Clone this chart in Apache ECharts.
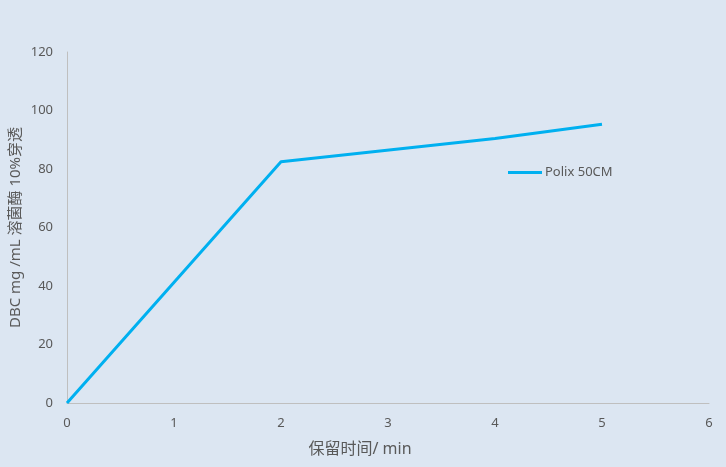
<!DOCTYPE html>
<html><head><meta charset="utf-8">
<script src="https://cdn.jsdelivr.net/npm/echarts@6/dist/echarts.min.js"></script>
<style>html,body{margin:0;padding:0;background:#dce6f2;}#c{width:726px;height:467px;}</style>
</head><body><div id="c"></div>
<script>
const xValues = [0, 2, 4, 5];
const yValues = [0, 82.5, 90.4, 95.3];
const seriesName = 'Polix 50CM';
const xTitle = '保留时间/ min';
const yTitle = 'DBC mg /mL 溶菌酶 10%穿透';

const chart = echarts.init(document.getElementById('c'));
const font = '"Noto Sans", "Noto Sans CJK SC", sans-serif';
chart.setOption({
  backgroundColor: '#dce6f2',
  animation: false,
  grid: { left: 67, right: 17, top: 52, bottom: 64, outerBoundsMode: 'none', containLabel: false },
  legend: {
    data: [seriesName], left: 503, top: 161, itemWidth: 34, itemHeight: 3, itemGap: 4,
    icon: 'rect',
    textStyle: { color: '#595959', fontSize: 13, fontFamily: font, padding: [0, 0, 0, -2] }
  },
  xAxis: {
    type: 'value', min: 0, max: 6, interval: 1,
    name: xTitle, nameLocation: 'middle', nameGap: 38,
    nameTextStyle: { color: '#595959', fontSize: 16, fontFamily: font, padding: [0, 56, 0, 0] },
    axisLine: { show: true, lineStyle: { color: '#bfbfbf', width: 1 } },
    axisTick: { show: false }, splitLine: { show: false },
    axisLabel: { color: '#595959', fontSize: 13, fontFamily: font, margin: 14 }
  },
  yAxis: {
    type: 'value', min: 0, max: 120, interval: 20,
    name: yTitle, nameLocation: 'middle', nameGap: 44, nameRotate: 90, nameMoveOverlap: false,
    nameTextStyle: { color: '#595959', fontSize: 15, fontFamily: font },
    axisLine: { show: true, lineStyle: { color: '#bfbfbf', width: 1 } },
    axisTick: { show: false }, splitLine: { show: false },
    axisLabel: { color: '#595959', fontSize: 13, fontFamily: font, margin: 14 }
  },
  series: [{
    name: seriesName, type: 'line', showSymbol: false, symbol: 'none',
    data: xValues.map((x, i) => [x, yValues[i]]),
    lineStyle: { color: '#00b0f0', width: 3 }, itemStyle: { color: '#00b0f0' }
  }]
});
</script></body></html>
